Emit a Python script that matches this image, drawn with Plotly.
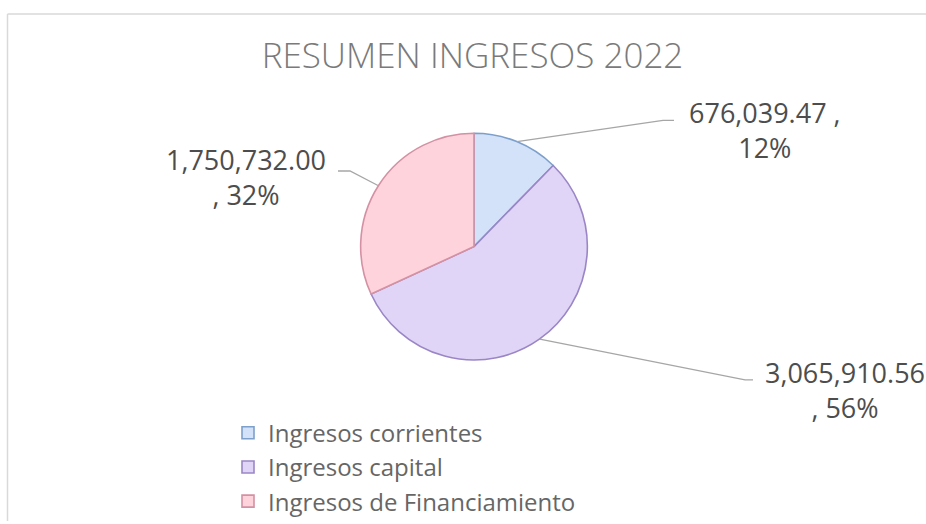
import math
import plotly.graph_objects as go

# ---------------- data ----------------
categories = ["Ingresos corrientes", "Ingresos capital", "Ingresos de Financiamiento"]
values = [676039.47, 3065910.56, 1750732.00]
title_text = "RESUMEN INGRESOS 2022"

# ---------------- style ----------------
W, H = 926, 524
fill_colors = ["#d3e2f8", "#e0d5f6", "#ffd3dc"]
line_colors = ["#7d9fcb", "#9a86c6", "#d491a3"]
label_color = "#4d4d4d"
FONT = "Open Sans"


def px(x):
    return x / W


def py(y):
    return 1 - y / H


# pie geometry (pixels)
cx, cy, r = 474, 248, 114

fig = go.Figure()
fig.add_trace(go.Pie(
    labels=categories,
    values=values,
    sort=False,
    direction="clockwise",
    rotation=0,
    textinfo="none",
    marker=dict(colors=fill_colors, line=dict(color=line_colors, width=1.6)),
    domain=dict(x=[px(cx - r), px(cx + r)], y=[py(cy + r), py(cy - r)]),
    showlegend=True,
))

# data labels with leader lines
total = sum(values)
label_layout = [
    # (elbow px, end px, label center px)
    ((663, 121), (674, 121), (765, 131)),
    ((745, 382), (753, 382), (845, 392)),
    ((350, 172), (338, 172), (246, 178)),
]
cum = 0.0
for v, (elbow, end, lab) in zip(values, label_layout):
    frac_mid = (cum + v / 2) / total
    cum += v
    ang = 2 * math.pi * frac_mid
    ex = cx + r * math.sin(ang)
    ey = cy - r * math.cos(ang)
    path = (f"M {px(ex)} {py(ey)} L {px(elbow[0])} {py(elbow[1])} "
            f"L {px(end[0])} {py(end[1])}")
    fig.add_shape(type="path", path=path, xref="paper", yref="paper",
                  line=dict(color="#a6a6a6", width=1.3))
    pct = round(100 * v / total)
    val_txt = f"{v:,.2f}"
    if lab[0] > cx and lab[1] < cy:
        txt = f"{val_txt} ,<br>{pct}%"
    else:
        txt = f"{val_txt}<br>, {pct}%"
    fig.add_annotation(x=px(lab[0]), y=py(lab[1]), xref="paper", yref="paper",
                       text=txt, showarrow=False, xanchor="center", yanchor="middle",
                       align="center",
                       font=dict(family=FONT, size=27, color=label_color))

# chart-area frame (left and top edges visible)
fig.add_shape(type="line", xref="paper", yref="paper",
              x0=px(7.5), y0=py(14), x1=px(7.5), y1=0,
              line=dict(color="#d9d9d9", width=1.5))
fig.add_shape(type="line", xref="paper", yref="paper",
              x0=px(7.5), y0=py(14), x1=1, y1=py(14),
              line=dict(color="#d9d9d9", width=1.5))

fig.update_layout(
    width=W, height=H,
    margin=dict(l=0, r=0, t=0, b=0),
    paper_bgcolor="white",
    plot_bgcolor="white",
    title=dict(text=title_text, x=px(472.5), y=py(56), xanchor="center", yanchor="middle",
               font=dict(family=FONT, size=35, color="#7a7a7a", weight=300)),
    legend=dict(x=px(228), y=py(413), xanchor="left", yanchor="top",
                font=dict(family=FONT, size=24, color="#666666"),
                bgcolor="rgba(0,0,0,0)", itemclick=False),
)

fig.write_html(
    "out.html",
    config={"displayModeBar": False},
    post_script="document.body.style.margin='0';document.body.style.overflow='hidden';",
)
